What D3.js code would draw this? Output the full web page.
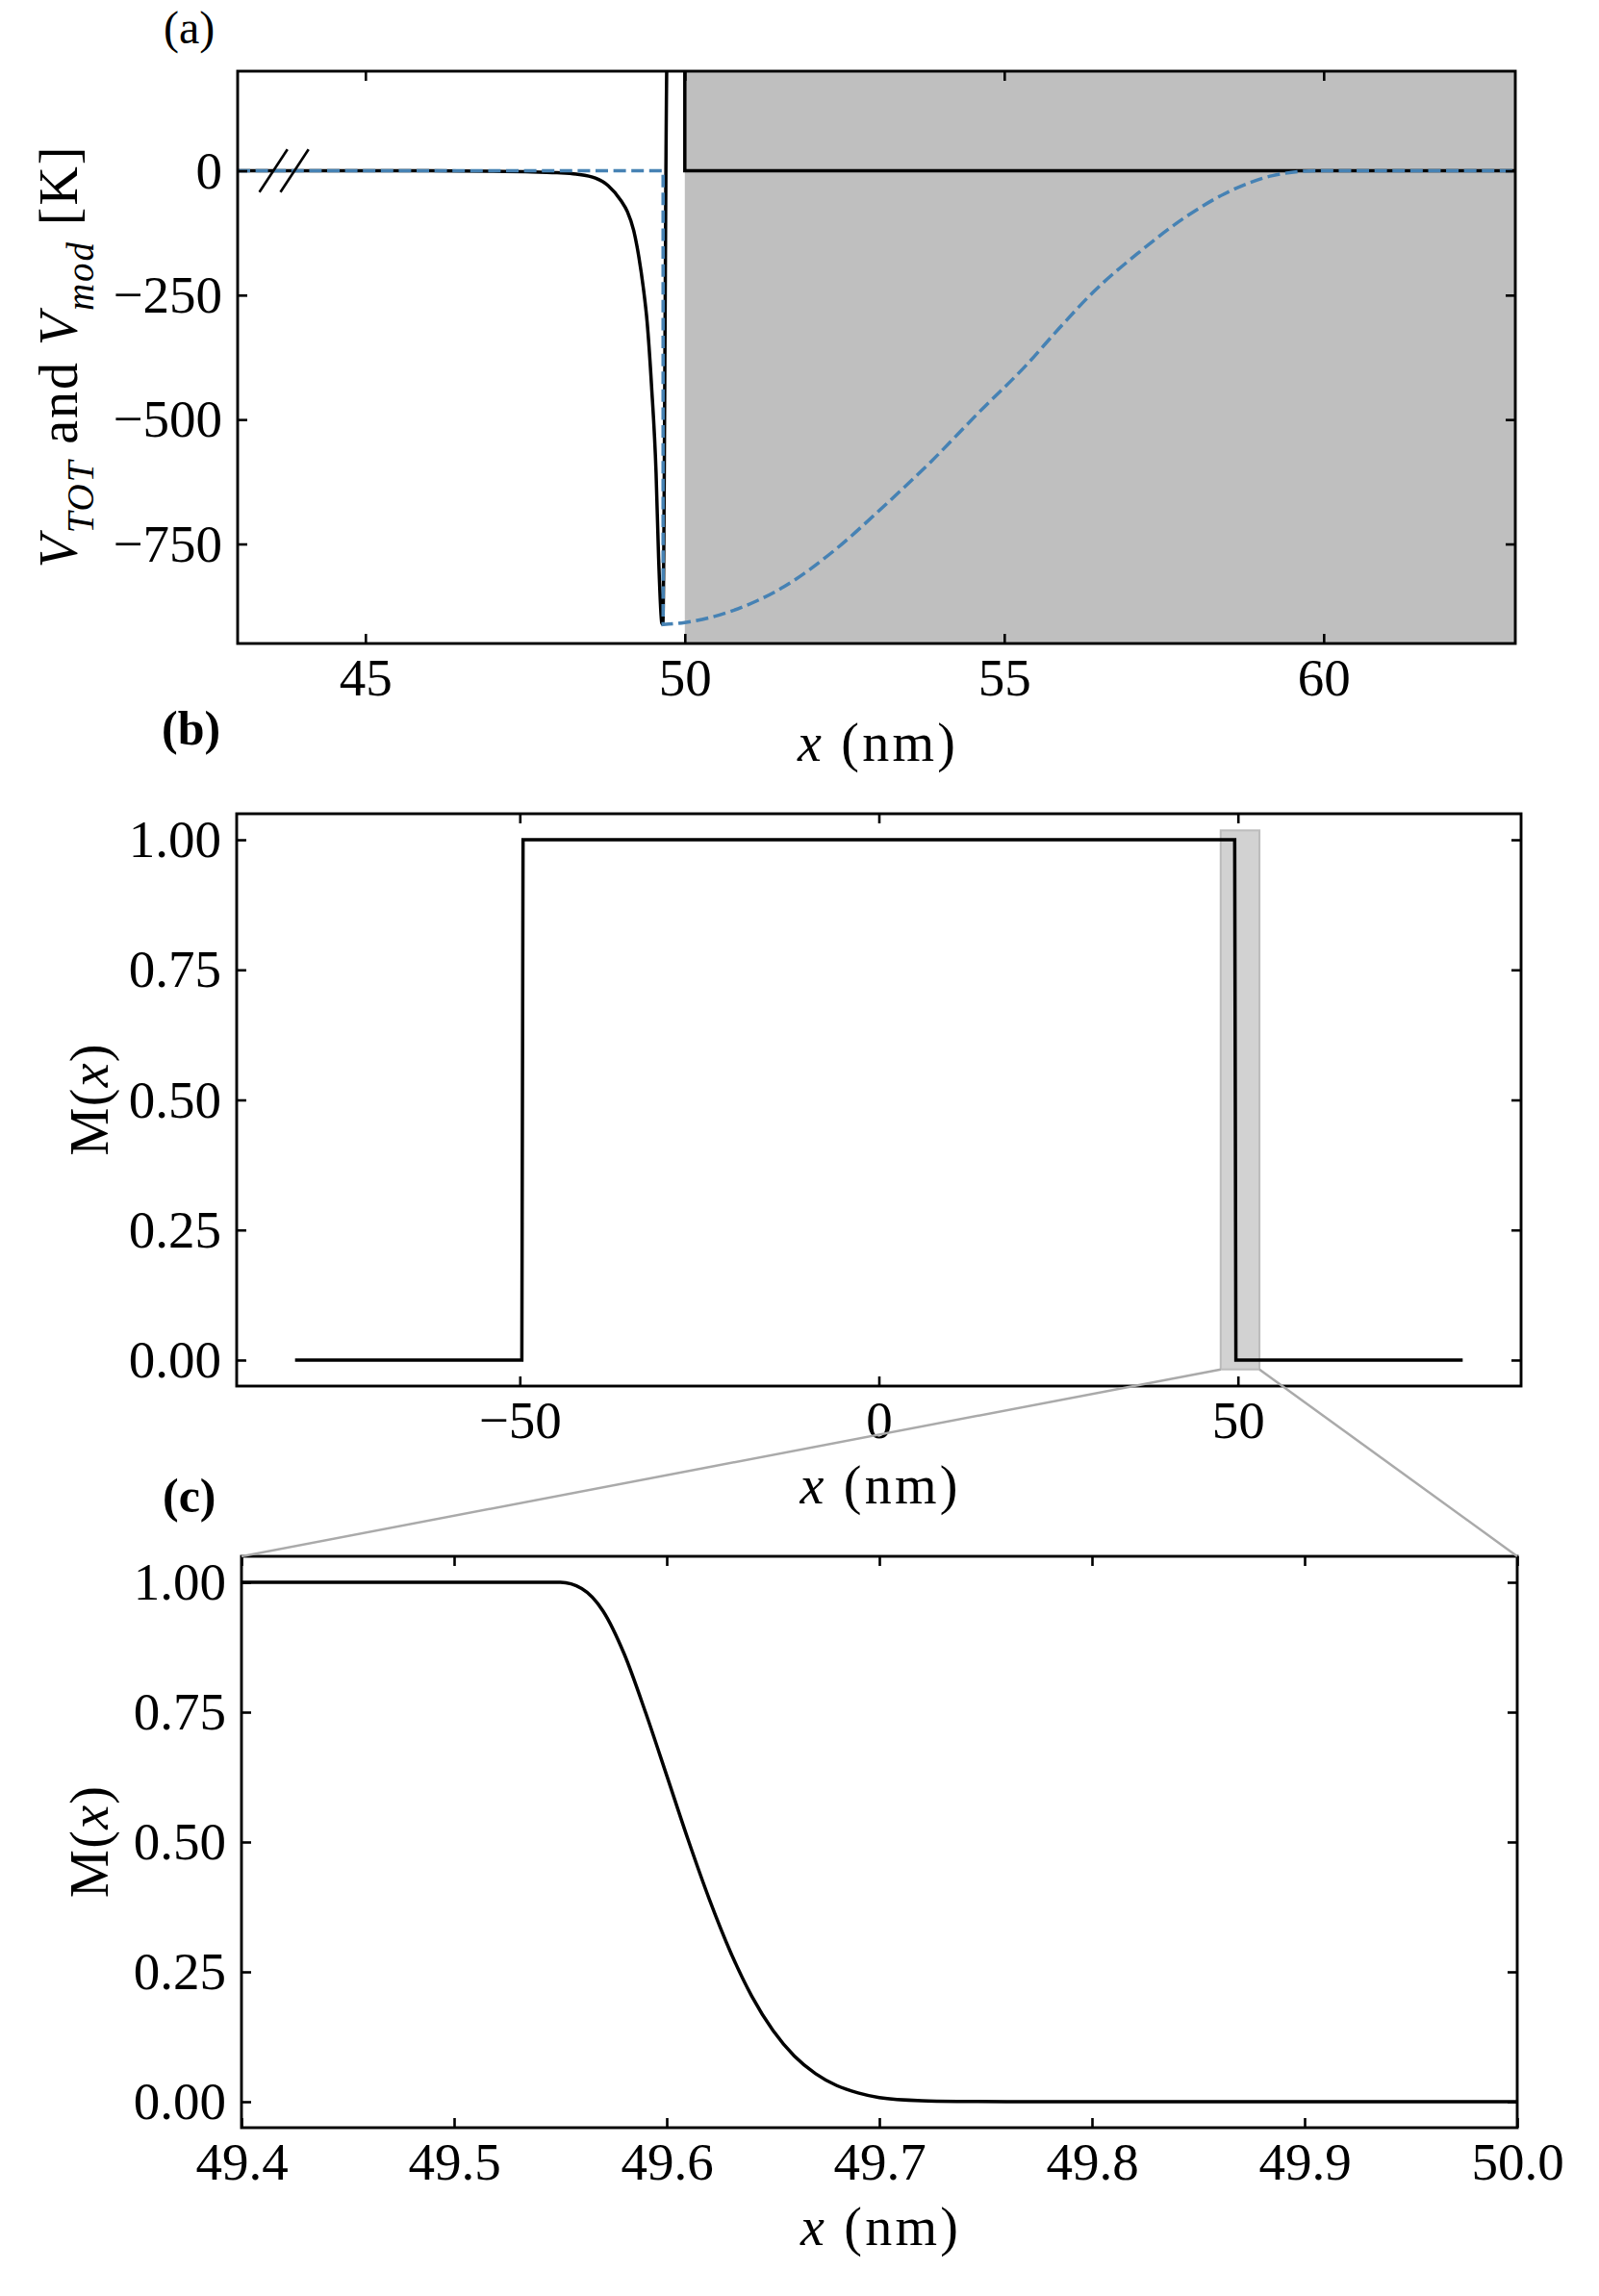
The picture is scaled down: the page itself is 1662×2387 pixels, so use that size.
<!DOCTYPE html>
<html>
<head>
<meta charset="utf-8">
<script src="https://cdn.jsdelivr.net/npm/d3@7"></script>
<style>
  body { margin: 0; background: #fff; }
  text { font-family: "Liberation Serif", "DejaVu Serif", serif; }
</style>
</head>
<body>
<div id="chart"></div>
<script>
// (a) total potential and model potential
var vtotX = [43, 46, 47, 47.5, 48, 48.3, 48.6, 48.8, 49.0, 49.1, 49.2, 49.28, 49.35, 49.41, 49.48, 49.55, 49.59, 49.64, 49.655, 49.725, 50.0, 50.0, 63]
var vtotY = [0, 0, -1, -2, -4, -7, -15, -30, -60, -82, -120, -173, -235, -304, -434, -607, -779, -909, -912, 250, 250, 0, 0]

var vmodX = [43, 49.66, 49.66, 50.0, 50.75, 51.55, 52.35, 53.1, 53.85, 54.6, 55.35, 55.85, 56.4, 57.1, 57.85, 58.55, 59.2, 59.9, 63]
var vmodY = [0, 0, -912, -908, -884, -836, -762, -676, -585, -486, -390, -318, -243, -165, -92, -40, -10, 0, 0]

// (b) M(x) over the whole box
var mFullX = [-81.3, -49.72, -49.55, 49.55, 49.72, 81.3]
var mFullY = [0, 0, 1, 1, 0, 0]

// (c) M(x) zoomed on the right edge
var mZoomX = [49.4, 49.55, 49.56, 49.57, 49.58, 49.59, 49.60, 49.61, 49.62, 49.63, 49.64, 49.65, 49.66, 49.67, 49.68, 49.69, 49.70, 49.72, 49.74, 49.76, 50.0]
var mZoomY = [1, 1, 0.988, 0.945, 0.862, 0.750, 0.628, 0.505, 0.390, 0.288, 0.203, 0.137, 0.088, 0.054, 0.031, 0.017, 0.008, 0.002, 0.0005, 0, 0]

// ticks
var aTicksX = [45, 50, 55, 60]
var aTicksY = [0, -250, -500, -750]
var bTicksX = [-50, 0, 50]
var cTicksX = [49.4, 49.5, 49.6, 49.7, 49.8, 49.9, 50.0]
var mTicksY = [0, 0.25, 0.5, 0.75, 1]

// shaded regions / marks
var wallStart = 50, wallEnd = 63
var zoomBoxX = [47.6, 53.0], zoomBoxY = [-0.018, 1.018]
var breakMarks = [[43.34, -43, 43.78, 43], [43.67, -43, 44.11, 43]]

var W = 1662, H = 2387
var tickFont = 55, labelFont = 56

var svg = d3.select("#chart")
    .append("svg")
    .attr("width", W)
    .attr("height", H)

function zipXY(xs, ys) {
    return xs.map(function(d, i) { return [d, ys[i]] })
}

// monotone curve, broken into runs wherever x repeats (vertical jumps)
function smoothPath(p, xs, ys) {
    var pts = zipXY(xs, ys)
    var runs = [[pts[0]]]
    for (var i = 1; i < pts.length; i++) {
        if (pts[i][0] === pts[i - 1][0]) runs.push([pts[i]])
        else runs[runs.length - 1].push(pts[i])
    }
    var line = d3.line()
        .x(function(d) { return p.x(d[0]) })
        .y(function(d) { return p.y(d[1]) })
        .curve(d3.curveMonotoneX)
    return runs.map(function(r, i) {
        var s = r.length > 1 ? line(r) : "M" + p.x(r[0][0]) + "," + p.y(r[0][1])
        return i === 0 ? s : "L" + s.slice(1)
    }).join("")
}

function panel(o) {
    var x = d3.scaleLinear().domain(o.xd).range([o.l, o.r])
    var y = d3.scaleLinear().domain(o.yd).range([o.b, o.t])
    var g = svg.append("g")
    svg.append("clipPath").attr("id", "clip-" + o.id)
        .append("rect")
        .attr("x", o.l).attr("y", o.t)
        .attr("width", o.r - o.l).attr("height", o.b - o.t)
    var plot = g.append("g").attr("clip-path", "url(#clip-" + o.id + ")")
    return { x: x, y: y, g: g, plot: plot, o: o }
}

function styleAxis(sel) {
    sel.select(".domain").remove()
    sel.selectAll(".tick line").attr("stroke", "#000").attr("stroke-width", 2.6)
    sel.selectAll(".tick text")
        .attr("font-family", '"Liberation Serif", serif')
        .attr("font-size", tickFont)
        .attr("fill", "#000")
}

function frame(p, xt, yt, xf, yf) {
    var o = p.o
    var g = p.g.append("g")
    g.append("g").attr("transform", "translate(0," + o.b + ")")
        .call(d3.axisBottom(p.x).tickValues(xt).tickFormat(xf).tickSizeInner(-10).tickSizeOuter(0).tickPadding(15))
        .call(styleAxis)
    g.append("g").attr("transform", "translate(0," + o.t + ")")
        .call(d3.axisTop(p.x).tickValues(xt).tickFormat("").tickSizeInner(-10).tickSizeOuter(0))
        .call(styleAxis)
    g.append("g").attr("transform", "translate(" + o.l + ",0)")
        .call(d3.axisLeft(p.y).tickValues(yt).tickFormat(yf).tickSizeInner(-10).tickSizeOuter(0).tickPadding(16))
        .call(styleAxis)
    g.append("g").attr("transform", "translate(" + o.r + ",0)")
        .call(d3.axisRight(p.y).tickValues(yt).tickFormat("").tickSizeInner(-10).tickSizeOuter(0))
        .call(styleAxis)
    g.append("rect")
        .attr("x", o.l).attr("y", o.t)
        .attr("width", o.r - o.l).attr("height", o.b - o.t)
        .attr("fill", "none").attr("stroke", "#000").attr("stroke-width", 2.9)

    var xl = g.append("text")
        .attr("x", (o.l + o.r) / 2).attr("y", o.b + 122)
        .attr("text-anchor", "middle").attr("font-size", labelFont)
        .attr("textLength", 164).attr("lengthAdjust", "spacing")
    xl.append("tspan").attr("font-style", "italic").text("x")
    xl.append("tspan").text(" (nm)")
}

function mLabel(p) {
    var t = svg.append("text")
        .attr("transform", "translate(112," + (p.o.t + p.o.b) / 2 + ") rotate(-90)")
        .attr("text-anchor", "middle").attr("font-size", labelFont)
        .attr("textLength", 116).attr("lengthAdjust", "spacing")
    t.append("tspan").text("M(")
    t.append("tspan").attr("font-style", "italic").text("x")
    t.append("tspan").text(")")
}

// ---------- (a)
var pa = panel({ id: "a", l: 247, r: 1575, t: 74, b: 669, xd: [43, 63], yd: [-950, 200] })

pa.plot.append("rect")
    .attr("x", pa.x(wallStart)).attr("y", pa.o.t)
    .attr("width", pa.x(wallEnd) - pa.x(wallStart)).attr("height", pa.o.b - pa.o.t)
    .attr("fill", "#bfbfbf")

pa.plot.append("path")
    .attr("d", smoothPath(pa, vtotX, vtotY))
    .attr("fill", "none").attr("stroke", "#000").attr("stroke-width", 3.5)

pa.plot.append("path")
    .attr("d", smoothPath(pa, vmodX, vmodY))
    .attr("fill", "none").attr("stroke", "#4682b4").attr("stroke-width", 3.5)
    .attr("stroke-dasharray", "13,5.6")

pa.plot.selectAll(".brk")
    .data(breakMarks)
    .enter().append("line")
    .attr("class", "brk")
    .attr("x1", function(d) { return pa.x(d[0]) })
    .attr("y1", function(d) { return pa.y(d[1]) })
    .attr("x2", function(d) { return pa.x(d[2]) })
    .attr("y2", function(d) { return pa.y(d[3]) })
    .attr("stroke", "#000").attr("stroke-width", 2.6)

frame(pa, aTicksX, aTicksY, d3.format("d"), d3.format("d"))

var ya = svg.append("text")
    .attr("transform", "translate(80," + (pa.o.t + pa.o.b) / 2 + ") rotate(-90)")
    .attr("text-anchor", "middle").attr("font-size", labelFont)
    .attr("textLength", 438).attr("lengthAdjust", "spacing")
ya.append("tspan").attr("font-style", "italic").text("V")
ya.append("tspan").attr("font-style", "italic").attr("font-size", 39).attr("dy", 17).text("TOT")
ya.append("tspan").attr("dy", -17).text(" and ")
ya.append("tspan").attr("font-style", "italic").text("V")
ya.append("tspan").attr("font-style", "italic").attr("font-size", 39).attr("dy", 17).text("mod")
ya.append("tspan").attr("dy", -17).text(" [K]")

// ---------- (b)
var pb = panel({ id: "b", l: 246, r: 1581, t: 846, b: 1441, xd: [-89.43, 89.43], yd: [-0.05, 1.05] })

pb.plot.append("rect")
    .attr("x", pb.x(zoomBoxX[0])).attr("y", pb.y(zoomBoxY[1]))
    .attr("width", pb.x(zoomBoxX[1]) - pb.x(zoomBoxX[0]))
    .attr("height", pb.y(zoomBoxY[0]) - pb.y(zoomBoxY[1]))
    .attr("fill", "#d2d2d2").attr("stroke", "#bcbcbc").attr("stroke-width", 2)

pb.plot.append("path")
    .datum(zipXY(mFullX, mFullY))
    .attr("d", d3.line().x(function(d) { return pb.x(d[0]) }).y(function(d) { return pb.y(d[1]) }))
    .attr("fill", "none").attr("stroke", "#000").attr("stroke-width", 3.5)

frame(pb, bTicksX, mTicksY, d3.format("d"), d3.format(".2f"))
mLabel(pb)

// ---------- (c)
var pc = panel({ id: "c", l: 251, r: 1577, t: 1618, b: 2212, xd: [49.4, 50.0], yd: [-0.05, 1.05] })

pc.plot.append("path")
    .attr("d", smoothPath(pc, mZoomX, mZoomY))
    .attr("fill", "none").attr("stroke", "#000").attr("stroke-width", 3.5)

frame(pc, cTicksX, mTicksY, d3.format(".1f"), d3.format(".2f"))
mLabel(pc)

// zoom connectors from the box in (b) to the corners of (c)
svg.append("line")
    .attr("x1", pb.x(zoomBoxX[0])).attr("y1", pb.y(zoomBoxY[0]))
    .attr("x2", pc.x(49.4)).attr("y2", pc.y(1.05))
    .attr("stroke", "#aaaaaa").attr("stroke-width", 2.5)
svg.append("line")
    .attr("x1", pb.x(zoomBoxX[1])).attr("y1", pb.y(zoomBoxY[0]))
    .attr("x2", pc.x(50.0)).attr("y2", pc.y(1.05))
    .attr("stroke", "#aaaaaa").attr("stroke-width", 2.5)

// panel letters
svg.append("text").attr("x", 170).attr("y", 45).attr("font-size", 48).text("(a)")
svg.append("text").attr("x", 168).attr("y", 774).attr("font-size", 50).attr("font-weight", "bold").text("(b)")
svg.append("text").attr("x", 169).attr("y", 1572).attr("font-size", 50).attr("font-weight", "bold").text("(c)")
</script>
</body>
</html>
